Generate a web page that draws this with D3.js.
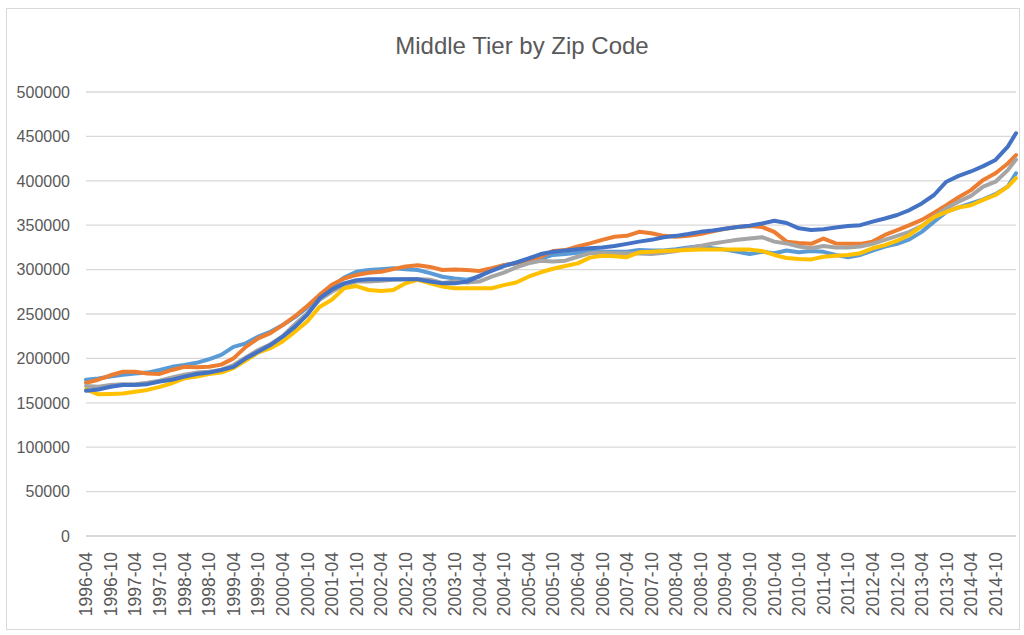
<!DOCTYPE html>
<html lang="en">
<head>
<meta charset="UTF-8">
<title>Middle Tier by Zip Code</title>
<script src="https://d3js.org/d3.v7.min.js"></script>
<style>
  body { margin: 0; background: #ffffff; }
  text { font-family: "Liberation Sans", Arial, sans-serif; fill: #595959; }
</style>
</head>
<body>
<div id="chart"></div>
<script>

// quarterly readings (last one is 2015-03)
var dates = [
  "1996-04","1996-07","1996-10",
  "1997-01","1997-04","1997-07","1997-10",
  "1998-01","1998-04","1998-07","1998-10",
  "1999-01","1999-04","1999-07","1999-10",
  "2000-01","2000-04","2000-07","2000-10",
  "2001-01","2001-04","2001-07","2001-10",
  "2002-01","2002-04","2002-07","2002-10",
  "2003-01","2003-04","2003-07","2003-10",
  "2004-01","2004-04","2004-07","2004-10",
  "2005-01","2005-04","2005-07","2005-10",
  "2006-01","2006-04","2006-07","2006-10",
  "2007-01","2007-04","2007-07","2007-10",
  "2008-01","2008-04","2008-07","2008-10",
  "2009-01","2009-04","2009-07","2009-10",
  "2010-01","2010-04","2010-07","2010-10",
  "2011-01","2011-04","2011-07","2011-10",
  "2012-01","2012-04","2012-07","2012-10",
  "2013-01","2013-04","2013-07","2013-10",
  "2014-01","2014-04","2014-07","2014-10",
  "2015-01","2015-03"
];

var tickLabels = [
  "1996-04","1996-10","1997-04","1997-10","1998-04","1998-10","1999-04","1999-10",
  "2000-04","2000-10","2001-04","2001-10","2002-04","2002-10","2003-04","2003-10",
  "2004-04","2004-10","2005-04","2005-10","2006-04","2006-10","2007-04","2007-10",
  "2008-04","2008-10","2009-04","2009-10","2010-04","2010-10","2011-04","2011-10",
  "2012-04","2012-10","2013-04","2013-10","2014-04","2014-10"
];

var yTicks = [0, 50000, 100000, 150000, 200000, 250000, 300000, 350000, 400000, 450000, 500000];

var zipA = [176000,177500,179500,181500,183000,184000,187000,190500,192500,195000,199000,
  204000,213000,217000,224500,230000,237500,246500,257500,268000,281000,291000,297500,
  299500,300500,301500,300500,299500,296000,292000,290000,288500,292000,300000,305000,
  307500,311000,312500,316500,317500,319000,320000,320000,320000,320000,322000,321500,
  321500,323000,325000,326500,324000,322500,320000,317500,320000,318500,321500,319500,
  321000,320000,316500,314000,316500,321500,326000,329000,334000,342500,354000,365000,
  370000,374500,379000,385000,393500,408500];

var zipB = [172500,176000,181000,185000,185000,183000,182500,187000,190500,190000,190500,
  193000,200000,213000,222500,228500,237500,247500,259000,271500,283000,290000,294000,
  296500,297500,300500,303500,305000,303000,299500,300000,299500,298500,301500,305000,
  307000,311000,314500,321000,322000,326000,329500,333500,337000,338000,342500,341000,
  338000,337000,338000,340000,343000,346000,348000,349000,348000,342500,331500,330000,
  329000,335000,329500,329000,329000,331500,339000,344500,350000,356000,364000,372500,
  381500,389500,401000,408500,419500,429000];

var zipC = [169000,168000,170000,171000,171000,172500,175000,178500,181500,184000,185000,
  187000,192500,201000,209500,216000,225000,238500,251000,266000,275000,282500,286500,
  286500,287500,288500,289000,289500,288500,285000,286500,285500,286500,292000,296500,
  302500,307000,310000,309000,310000,314500,318500,319000,318500,318500,318000,317500,
  319000,321000,324000,326500,329500,331500,333500,335000,336500,331500,329500,326000,
  324000,326500,325000,325000,326000,329000,333500,338000,342500,349000,359500,369000,
  376500,383000,393500,399000,412000,424000];

var zipD = [165000,159500,160000,160500,162500,164500,168000,172000,177500,179500,182500,
  184000,189000,197500,206500,211500,219000,230000,241500,258000,266000,279000,281500,
  277000,276000,277000,284500,288500,284500,281000,279000,279000,279000,279000,282500,
  285500,292000,297000,301000,304000,307000,313500,315500,315000,314000,319500,320000,
  321000,321500,322000,322500,322500,322500,322500,322500,321000,316500,313000,312000,
  311500,314500,315500,316500,318500,324000,327500,332500,339000,349000,359000,365000,
  370000,372500,378500,384000,393500,403000];

var zipE = [163500,165000,168000,170000,170000,171000,174000,176000,179500,182500,184000,
  187000,190500,200000,207500,215000,224500,235500,249000,267500,277500,284500,288000,
  289000,289000,289000,289000,289000,286500,284500,284500,286500,293000,298500,304000,
  308000,312500,317500,320000,321500,323000,324000,325000,326500,329000,331500,333500,
  336500,338000,340000,342500,344000,346000,348000,349500,352000,355000,352500,346500,
  344500,345500,347500,349000,350000,354000,357500,361500,367000,374500,384000,399000,
  405500,410500,416500,423500,438500,453500];

var seriesColors = ["#5B9BD5", "#ED7D31", "#A5A5A5", "#FFC000", "#4472C4"];
var allSeries = [zipA, zipB, zipC, zipD, zipE];

var W = 1024, H = 635;
var plot = {left: 86, right: 1016, top: 92, bottom: 536};

var svg = d3.select("#chart")
  .append("svg")
  .attr("width", W)
  .attr("height", H);

// chart border
svg.append("rect")
  .attr("x", 6.5).attr("y", 8.5)
  .attr("width", 1013).attr("height", 621)
  .attr("fill", "#ffffff")
  .attr("stroke", "#d9d9d9");

// months since 1996-04 -> category position
function monthIndex(s) {
  var p = s.split("-");
  return (+p[0] - 1996) * 12 + (+p[1] - 4);
}

var x = d3.scaleLinear()
  .domain([0, monthIndex(dates[dates.length - 1])])
  .range([plot.left, plot.right]);

var y = d3.scaleLinear()
  .domain([0, 500000])
  .range([plot.bottom, plot.top]);

// gridlines
svg.append("g")
  .selectAll("line")
  .data(yTicks)
  .enter().append("line")
  .attr("x1", plot.left).attr("x2", plot.right)
  .attr("y1", function(d) { return y(d); })
  .attr("y2", function(d) { return y(d); })
  .attr("stroke", "#d9d9d9")
  .attr("stroke-width", function(d) { return d === 0 ? 2 : 1.3; });

// y labels
svg.append("g")
  .selectAll("text")
  .data(yTicks)
  .enter().append("text")
  .attr("x", 70)
  .attr("y", function(d) { return y(d); })
  .attr("dy", "0.36em")
  .attr("text-anchor", "end")
  .style("font-size", "16px")
  .text(function(d) { return d; });

// x labels, rotated
svg.append("g")
  .selectAll("text")
  .data(tickLabels)
  .enter().append("text")
  .attr("transform", function(d) {
    return "translate(" + x(monthIndex(d)) + ",552) rotate(-90)";
  })
  .attr("dy", "0.36em")
  .attr("text-anchor", "end")
  .style("font-size", "17.5px")
  .text(function(d) { return d; });

// lines
var line = d3.line()
  .x(function(d, i) { return x(monthIndex(dates[i])); })
  .y(function(d) { return y(d); });

svg.append("g")
  .selectAll("path")
  .data(allSeries)
  .enter().append("path")
  .attr("fill", "none")
  .attr("stroke", function(d, i) { return seriesColors[i]; })
  .attr("stroke-width", 4)
  .attr("stroke-linejoin", "round")
  .attr("stroke-linecap", "round")
  .attr("d", line);

// title
svg.append("text")
  .attr("x", 522)
  .attr("y", 54)
  .attr("text-anchor", "middle")
  .style("font-size", "24px")
  .text("Middle Tier by Zip Code");

</script>
</body>
</html>
